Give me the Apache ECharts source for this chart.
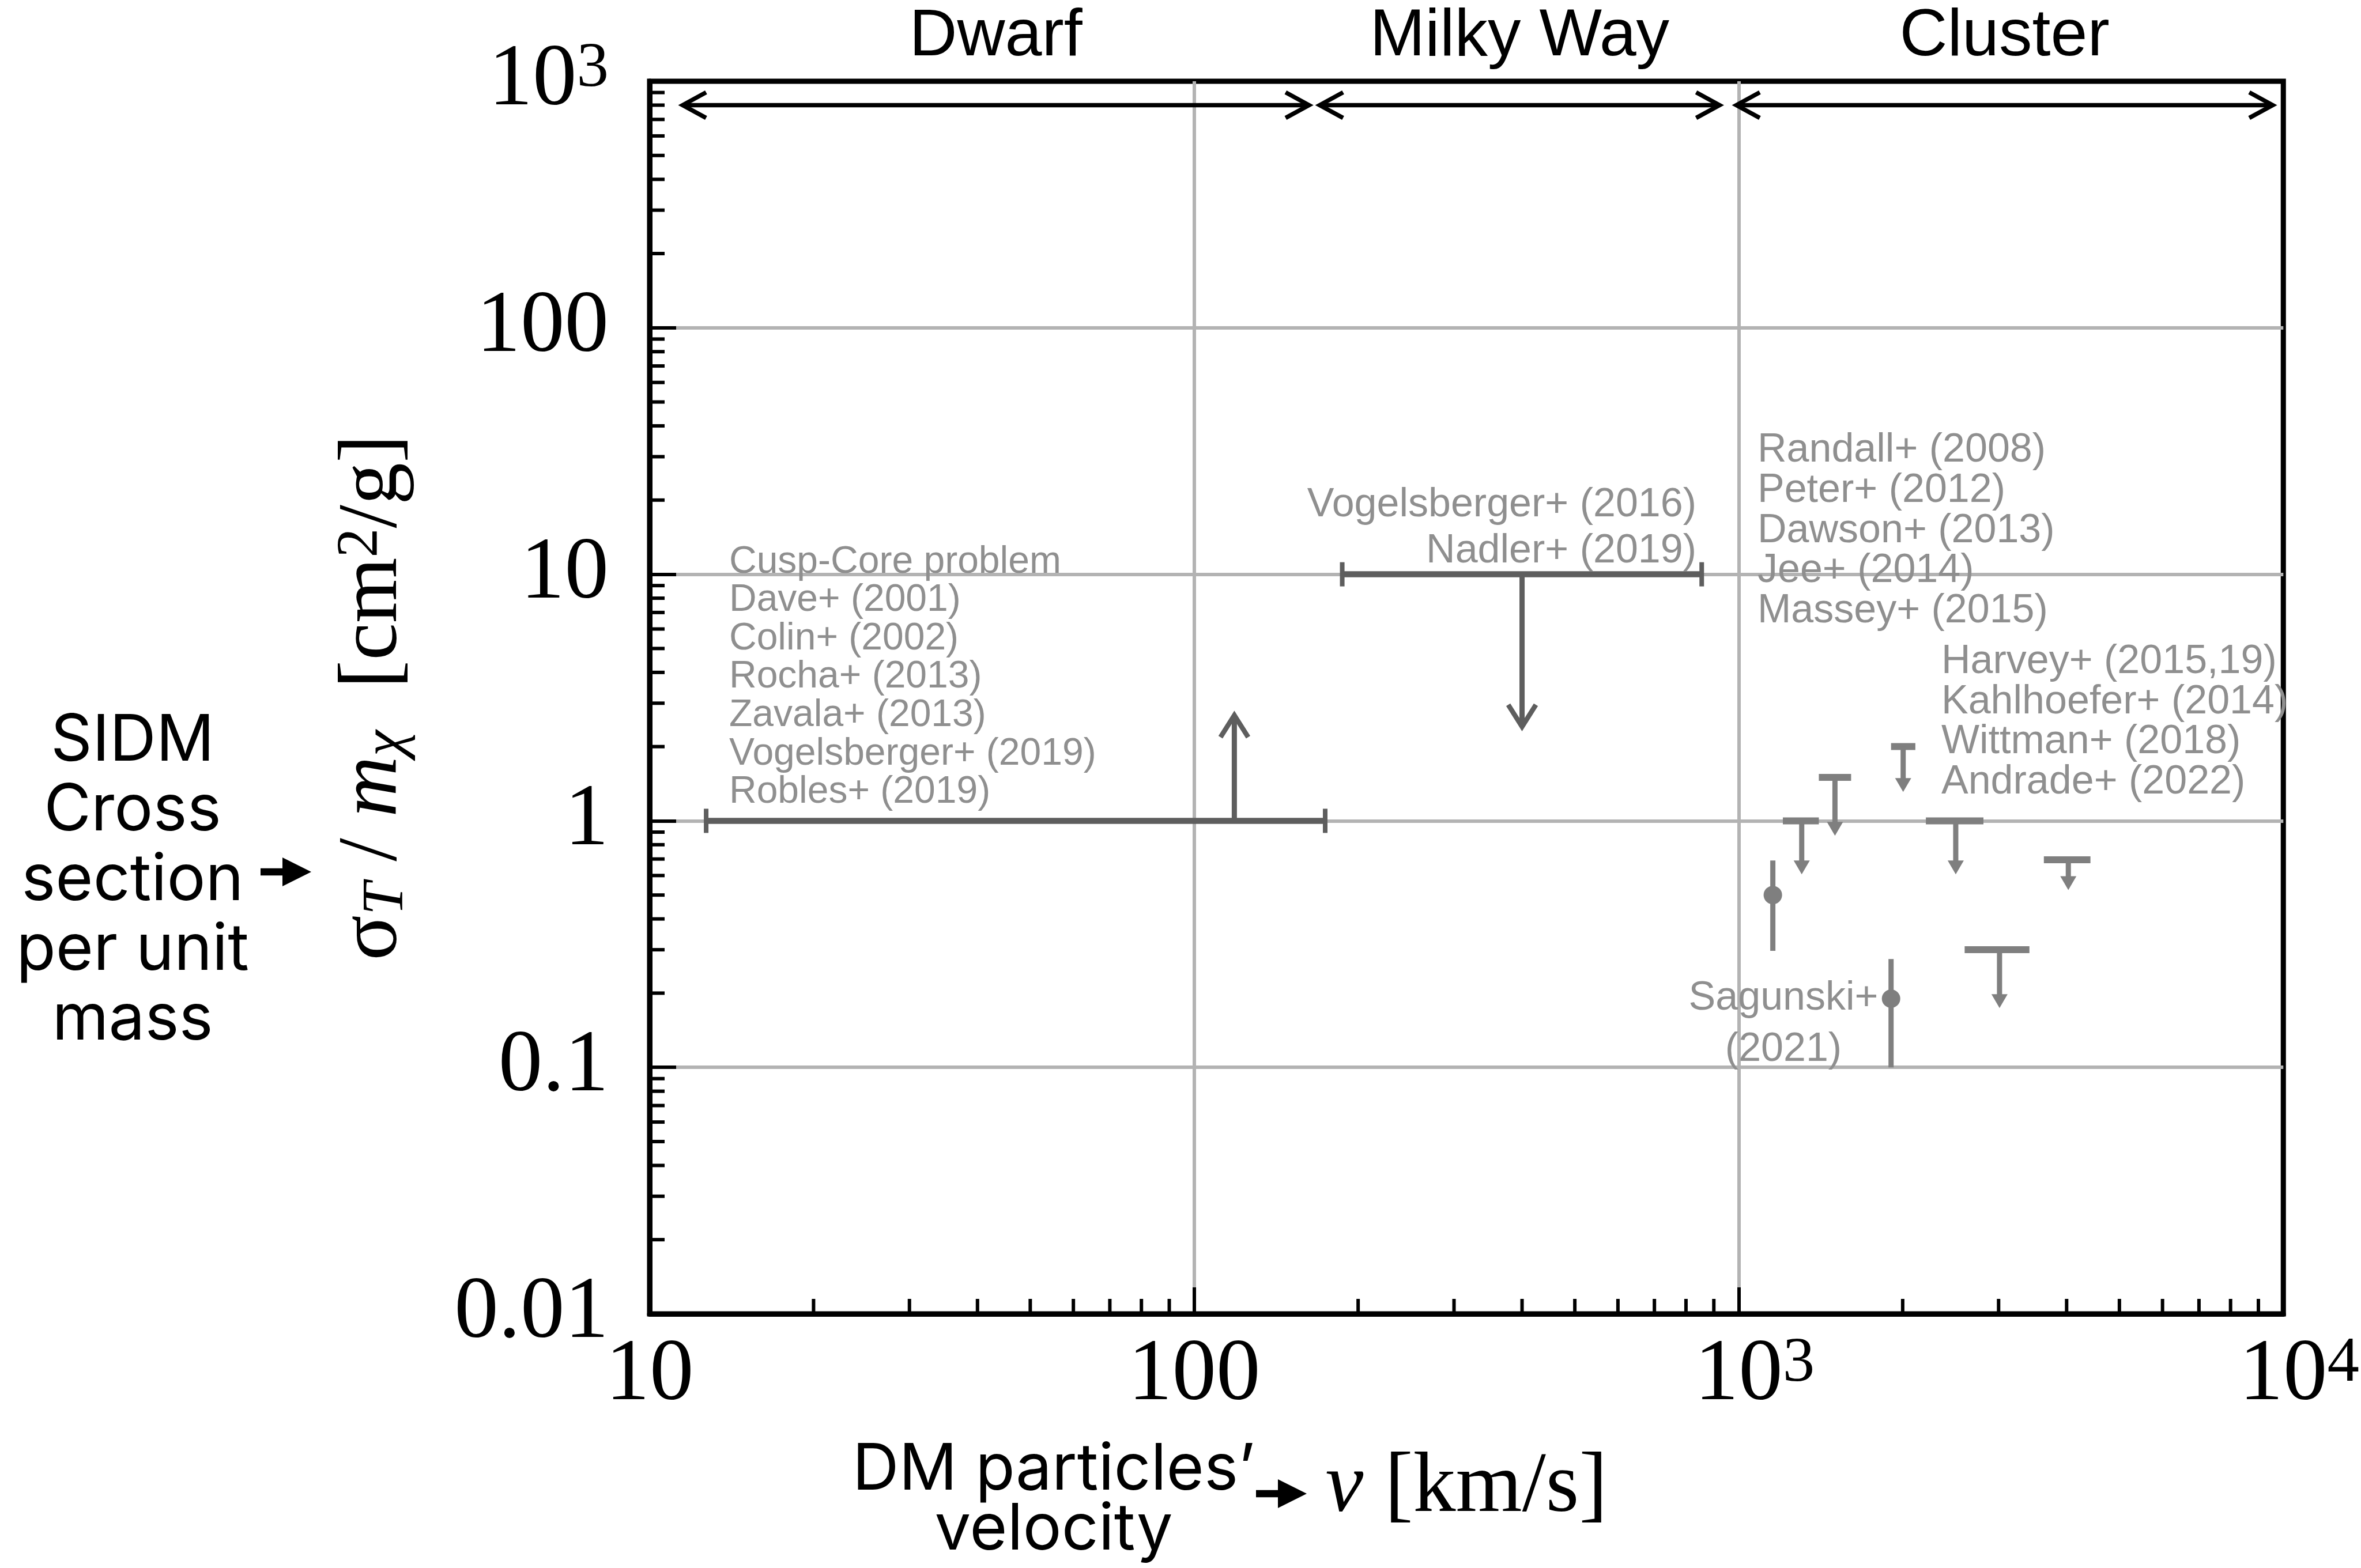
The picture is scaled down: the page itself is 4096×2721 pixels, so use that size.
<!DOCTYPE html>
<html>
<head>
<meta charset="utf-8">
<script src="https://cdn.jsdelivr.net/npm/echarts@6/dist/echarts.min.js"></script>
<style>
  html, body { margin: 0; padding: 0; background: #fff; }
  #main { width: 4096px; height: 2721px; }
</style>
</head>
<body>
<div id="main"></div>
<script>
// axis ticks
const xTicks = [10, 100, 1000, 10000];
const xTickText = ['10', '100', '{pad| }10{sup|3}', '{pad| }10{sup|4}'];
const yTicks = [0.01, 0.1, 1, 10, 100, 1000];
const yTickText = ['0.01', '0.1', '1', '10', '100', '10{sup|3}'];

// velocity regimes (double arrows on top), km/s
const regimeNames = ['Dwarf', 'Milky Way', 'Cluster'];
const regimeFrom = [11.5, 170, 990];
const regimeTo = [162.5, 922, 9560];
const regimeLevel = 800;

// dwarf / milky way bounds: velocity range at one cross section + arrow
const rangeFrom = [12.7, 187];
const rangeTo = [174, 855];
const rangeSigma = [1, 10];
const rangeArrowV = [118.5, 400];
const rangeArrowTip = [2.68, 2.41];

// cluster upper limits
const limitV = [1305, 1502, 2004, 2503, 4029, 3012];
const limitLo = [1205, 1403, 1904, 2206, 3633, 2599];
const limitHi = [1403, 1608, 2110, 2814, 4424, 3418];
const limitSigma = [1, 1.5, 2.0, 1, 0.695, 0.3];
const limitTip = [0.607, 0.87, 1.31, 0.607, 0.524, 0.174];

// cluster measurements with error bars
const measV = [1155, 1904];
const measSigma = [0.5, 0.19];
const measLow = [0.297, 0.1];
const measHigh = [0.69, 0.275];

// reference labels
const dwarfRefs = ['Cusp-Core problem', 'Dave+ (2001)', 'Colin+ (2002)', 'Rocha+ (2013)',
  'Zavala+ (2013)', 'Vogelsberger+ (2019)', 'Robles+ (2019)'];
const mwRefs = ['Vogelsberger+ (2016)', 'Nadler+ (2019)'];
const clusterRefs = ['Randall+ (2008)', 'Peter+ (2012)', 'Dawson+ (2013)', 'Jee+ (2014)', 'Massey+ (2015)'];
const mergerRefs = ['Harvey+ (2015,19)', 'Kahlhoefer+ (2014)', 'Wittman+ (2018)', 'Andrade+ (2022)'];
const sagunskiRefs = ['Sagunski+', '(2021)'];

const xMinor = [];
[10, 100, 1000].forEach(d => { for (let m = 2; m <= 9; m++) xMinor.push(m * d); });
const yMinor = [];
[0.01, 0.1, 1, 10, 100].forEach(d => { for (let m = 2; m <= 9; m++) yMinor.push(m * d); });

const darkGray = '#5e5e5e';
const clusterGray = '#7f7f7f';
const textGray = '#8f8f8f';
const serif = 'Liberation Serif';
const sans = 'Liberation Sans';

function pickTick(ticks, texts, v) {
  let k = 0, best = Infinity;
  ticks.forEach((t, i) => {
    const d = Math.abs(Math.log10(t) - Math.log10(v));
    if (d < best) { best = d; k = i; }
  });
  return texts[k];
}

function textEl(x, y, lines, opt) {
  return {
    type: 'text', x: x, y: y, z: 100, silent: true,
    style: {
      text: lines.join('\n'),
      fontFamily: opt.family || sans,
      fontSize: opt.size || 70,
      lineHeight: opt.lh,
      fill: opt.color || textGray,
      align: opt.align || 'left', textAlign: opt.align || 'left',
      verticalAlign: 'top', textVerticalAlign: 'top'
    }
  };
}

function arrowEl(x0, y, color) {
  // filled block arrow pointing right
  const shaft = 38, head = 50, sw = 6.2, hw = 25;
  return {
    type: 'polygon', z: 100, silent: true,
    shape: { points: [[x0, y - sw], [x0 + shaft, y - sw], [x0 + shaft, y - hw], [x0 + shaft + head, y],
      [x0 + shaft, y + hw], [x0 + shaft, y + sw], [x0, y + sw]] },
    style: { fill: color }
  };
}

const chart = echarts.init(document.getElementById('main'));

const option = {
  animation: false,
  backgroundColor: '#fff',
  grid: {
    left: 1127, top: 141, width: 2850, height: 2139,
    show: true, borderColor: '#000', borderWidth: 9, backgroundColor: 'transparent'
  },
  xAxis: {
    type: 'log', logBase: 10, min: 10, max: 10000,
    axisLine: { lineStyle: { color: '#000', width: 9 } },
    axisTick: { inside: true, length: 46, lineStyle: { color: '#000', width: 6 } },
    splitLine: { show: true, showMinLine: false, showMaxLine: false, lineStyle: { color: '#b3b3b3', width: 6 } },
    axisLabel: {
      margin: 31, showMinLabel: true, showMaxLabel: true,
      fontFamily: serif, fontSize: 153, lineHeight: 153, color: '#000',
      formatter: v => pickTick(xTicks, xTickText, v),
      rich: {
        sup: { fontFamily: serif, fontSize: 111, lineHeight: 72, verticalAlign: 'top', color: '#000' },
        pad: { width: 55, fontSize: 10 }
      }
    },
    name: '{it|v} [km/s]',
    nameLocation: 'middle', nameGap: 229,
    nameTextStyle: {
      fontFamily: serif, fontSize: 148, lineHeight: 148, color: '#000',
      rich: { it: { fontFamily: serif, fontSize: 148, fontStyle: 'italic', color: '#000' } }
    }
  },
  yAxis: {
    type: 'log', logBase: 10, min: 0.01, max: 1000,
    axisLine: { lineStyle: { color: '#000', width: 9 } },
    axisTick: { inside: true, length: 46, lineStyle: { color: '#000', width: 6 } },
    splitLine: { show: true, showMinLine: false, showMaxLine: false, lineStyle: { color: '#b3b3b3', width: 6 } },
    axisLabel: {
      margin: 71, showMinLabel: true, showMaxLabel: true,
      fontFamily: serif, fontSize: 153, lineHeight: 153, color: '#000',
      formatter: v => pickTick(yTicks, yTickText, v),
      rich: {
        sup: { fontFamily: serif, fontSize: 111, lineHeight: 72, verticalAlign: 'top', color: '#000' }
      }
    },
    name: 'σ{sub|T} / {it|m}{subi|χ}  [cm{sup|2}/g]',
    nameLocation: 'middle', nameGap: 405, nameRotate: 90,
    nameTextStyle: {
      fontFamily: serif, fontSize: 146, lineHeight: 146, color: '#000',
      rich: {
        sub: { fontFamily: serif, fontSize: 102, fontStyle: 'italic', lineHeight: 80, verticalAlign: 'bottom', color: '#000' },
        subi: { fontFamily: serif, fontSize: 102, fontStyle: 'italic', lineHeight: 80, verticalAlign: 'bottom', color: '#000' },
        it: { fontFamily: serif, fontSize: 146, fontStyle: 'italic', color: '#000' },
        sup: { fontFamily: serif, fontSize: 102, lineHeight: 62, verticalAlign: 'top', color: '#000' }
      }
    }
  },
  graphic: [
    textEl(1265, 942, dwarfRefs, { lh: 66.6, size: 66 }),
    textEl(2943, 837, mwRefs, { lh: 79.6, align: 'right' }),
    textEl(3049, 747, clusterRefs, { lh: 69.7 }),
    textEl(3368, 1114, mergerRefs, { lh: 69.5 }),
    textEl(3094, 1688, sagunskiRefs, { lh: 89, align: 'center' }),
    textEl(230, 1226, ['SIDM', 'Cross', 'section', 'per unit', 'mass'],
      { family: 'Inter', size: 112, lh: 121, align: 'center', color: '#000' }),
    textEl(1828, 2499, ['DM particles’', 'velocity'],
      { family: 'Inter', size: 112, lh: 104, align: 'center', color: '#000' }),
    arrowEl(452, 1513, '#000'),
    arrowEl(2179, 2592, '#000')
  ],
  series: [
    {
      // minor ticks along the bottom axis
      type: 'custom', coordinateSystem: 'cartesian2d', silent: true, clip: false, z: 3,
      data: xMinor.map(v => [v, 0.01]),
      renderItem: (params, api) => {
        const p = api.coord([api.value(0), api.value(1)]);
        return { type: 'line', shape: { x1: p[0], y1: p[1], x2: p[0], y2: p[1] - 26 },
          style: { stroke: '#000', lineWidth: 6 } };
      }
    },
    {
      // minor ticks along the left axis
      type: 'custom', coordinateSystem: 'cartesian2d', silent: true, clip: false, z: 3,
      data: yMinor.map(v => [10, v]),
      renderItem: (params, api) => {
        const p = api.coord([api.value(0), api.value(1)]);
        return { type: 'line', shape: { x1: p[0], y1: p[1], x2: p[0] + 26, y2: p[1] },
          style: { stroke: '#000', lineWidth: 6 } };
      }
    },
    {
      // regime double arrows with titles
      type: 'custom', coordinateSystem: 'cartesian2d', silent: true, clip: false, z: 5,
      data: regimeNames.map((n, i) => [regimeFrom[i], regimeLevel, regimeTo[i]]),
      renderItem: (params, api) => {
        const a = api.coord([api.value(0), api.value(1)]);
        const b = api.coord([api.value(2), api.value(1)]);
        const mid = api.coord([Math.sqrt(api.value(0) * api.value(2)), api.value(1)]);
        const hx = 40.6, hy = 22.2;
        const st = { stroke: '#000', lineWidth: 7.5, fill: null, lineJoin: 'miter' };
        return { type: 'group', children: [
          { type: 'line', shape: { x1: a[0] + 3, y1: a[1], x2: b[0] - 3, y2: b[1] }, style: st },
          { type: 'polyline', shape: { points: [[a[0] + hx, a[1] - hy], [a[0], a[1]], [a[0] + hx, a[1] + hy]] }, style: st },
          { type: 'polyline', shape: { points: [[b[0] - hx, b[1] - hy], [b[0], b[1]], [b[0] - hx, b[1] + hy]] }, style: st },
          { type: 'text', x: mid[0], y: mid[1] - 118,
            style: { text: regimeNames[params.dataIndex], fontFamily: sans, fontSize: 115, fill: '#000',
              align: 'center', textAlign: 'center', verticalAlign: 'middle', textVerticalAlign: 'middle' } }
        ] };
      }
    },
    {
      // dwarf and milky way constraints
      type: 'custom', coordinateSystem: 'cartesian2d', silent: true, clip: false, z: 6,
      data: rangeFrom.map((f, i) => [f, rangeSigma[i], rangeTo[i], rangeArrowV[i], rangeArrowTip[i]]),
      renderItem: (params, api) => {
        const a = api.coord([api.value(0), api.value(1)]);
        const b = api.coord([api.value(2), api.value(1)]);
        const s = api.coord([api.value(3), api.value(1)]);
        const t = api.coord([api.value(3), api.value(4)]);
        const dir = t[1] > s[1] ? 1 : -1;
        const st = { stroke: darkGray, fill: null, lineJoin: 'miter' };
        return { type: 'group', children: [
          { type: 'line', shape: { x1: a[0], y1: a[1], x2: b[0], y2: b[1] }, style: Object.assign({ lineWidth: 10.5 }, st) },
          { type: 'line', shape: { x1: a[0], y1: a[1] - 21, x2: a[0], y2: a[1] + 21 }, style: Object.assign({ lineWidth: 8 }, st) },
          { type: 'line', shape: { x1: b[0], y1: b[1] - 21, x2: b[0], y2: b[1] + 21 }, style: Object.assign({ lineWidth: 8 }, st) },
          { type: 'line', shape: { x1: s[0], y1: s[1], x2: t[0], y2: t[1] - dir * 3 }, style: Object.assign({ lineWidth: 9 }, st) },
          { type: 'polyline', shape: { points: [[t[0] - 24, t[1] - dir * 38], [t[0], t[1]], [t[0] + 24, t[1] - dir * 38]] },
            style: Object.assign({ lineWidth: 8.5 }, st) }
        ] };
      }
    },
    {
      // cluster upper limits
      type: 'custom', coordinateSystem: 'cartesian2d', silent: true, clip: false, z: 6,
      data: limitV.map((v, i) => [v, limitSigma[i], limitLo[i], limitHi[i], limitTip[i]]),
      renderItem: (params, api) => {
        const p = api.coord([api.value(0), api.value(1)]);
        const l = api.coord([api.value(2), api.value(1)]);
        const r = api.coord([api.value(3), api.value(1)]);
        const t = api.coord([api.value(0), api.value(4)]);
        const hl = 24, hw = 14;
        return { type: 'group', children: [
          { type: 'line', shape: { x1: l[0], y1: l[1], x2: r[0], y2: r[1] }, style: { stroke: clusterGray, lineWidth: 12 } },
          { type: 'line', shape: { x1: p[0], y1: p[1], x2: t[0], y2: t[1] - hl + 1 }, style: { stroke: clusterGray, lineWidth: 9 } },
          { type: 'polygon', shape: { points: [[t[0] - hw, t[1] - hl], [t[0] + hw, t[1] - hl], [t[0], t[1]]] },
            style: { fill: clusterGray } }
        ] };
      }
    },
    {
      // cluster measurements
      type: 'custom', coordinateSystem: 'cartesian2d', silent: true, clip: false, z: 6,
      data: measV.map((v, i) => [v, measSigma[i], measLow[i], measHigh[i]]),
      renderItem: (params, api) => {
        const p = api.coord([api.value(0), api.value(1)]);
        const lo = api.coord([api.value(0), api.value(2)]);
        const hi = api.coord([api.value(0), api.value(3)]);
        return { type: 'group', children: [
          { type: 'line', shape: { x1: hi[0], y1: hi[1], x2: lo[0], y2: lo[1] }, style: { stroke: clusterGray, lineWidth: 9 } },
          { type: 'circle', shape: { cx: p[0], cy: p[1], r: 16 }, style: { fill: clusterGray } }
        ] };
      }
    }
  ]
};

chart.setOption(option);
</script>
</body>
</html>
